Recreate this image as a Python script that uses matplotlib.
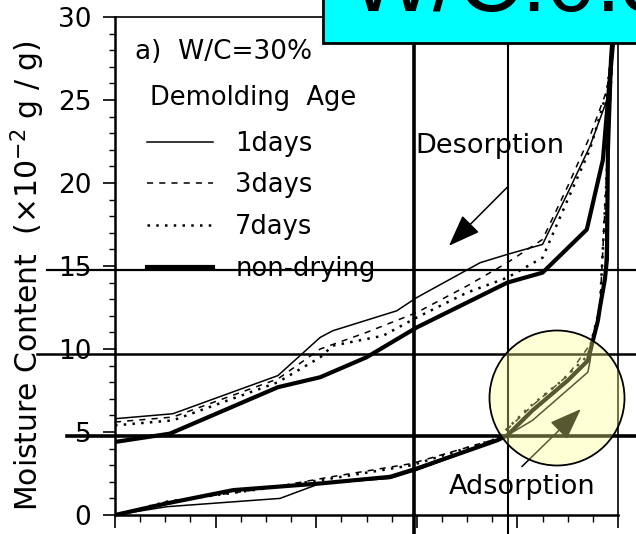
import numpy as np
import matplotlib
matplotlib.use("Agg")
import matplotlib.pyplot as plt
from matplotlib.lines import Line2D
from matplotlib.patches import Rectangle, Ellipse

plt.rcParams['font.family'] = ['DejaVu Sans']

# relative humidity (%) / moisture content (x10^-2 g/g)
# desorption branches
des_rh_1 = [0, 11.5, 32.4, 40.8, 43.3, 56, 60, 72.6, 78, 85, 90, 94.4, 97.8, 99, 99.6]
des_mc_1 = [5.8, 6.1, 8.4, 10.7, 11.1, 12.3, 13.1, 15.2, 15.7, 16.3, 19.4, 22.2, 25.0, 28.0, 30.0]
des_rh_3 = [0, 11.5, 32.4, 40.8, 50, 60, 70, 78, 85, 90, 94.4, 97.8, 99.6]
des_mc_3 = [5.6, 5.9, 8.2, 10.0, 11.0, 12.2, 13.8, 15.2, 16.6, 19.8, 22.8, 25.6, 30.0]
des_rh_7 = [0, 11.5, 32.4, 40.8, 43.3, 53.3, 60, 70, 78, 85, 90, 94.4, 97.8, 99.6]
des_mc_7 = [5.4, 5.7, 8.0, 9.5, 10.2, 10.8, 11.9, 13.4, 14.3, 15.5, 19.0, 22.0, 25.5, 30.0]
des_rh_nd = [0, 10.9, 32.4, 40.8, 50, 60, 78, 85, 93.8, 97, 98, 99, 99.6]
des_mc_nd = [4.4, 4.9, 7.7, 8.3, 9.5, 11.3, 14.0, 14.6, 17.2, 21.4, 25.0, 28.4, 30.0]

# adsorption branches
ads_rh_1 = [0, 10.3, 32.8, 40.8, 54.7, 60, 76, 78, 83, 94, 94.4, 95, 96, 97.4, 98, 99.2]
ads_mc_1 = [0, 0.5, 1.0, 1.9, 2.2, 2.7, 4.5, 4.8, 5.7, 8.6, 9.2, 10.5, 11.7, 14.2, 22.0, 30.0]
ads_rh_3 = [0, 10.3, 30, 43, 59, 76, 83, 90, 95, 96.4, 98, 99.2]
ads_mc_3 = [0, 0.8, 1.6, 2.3, 3.1, 4.6, 6.6, 8.4, 10.5, 12.5, 22.0, 30.0]
ads_rh_7 = [0, 10.3, 30, 43, 59, 76, 82, 86, 88.5, 94, 96.4, 98, 99.2]
ads_mc_7 = [0, 0.8, 1.6, 2.2, 3.0, 4.6, 6.4, 7.4, 8.0, 9.6, 12.5, 22.0, 30.0]
ads_rh_nd = [0, 10.3, 23.5, 40.8, 54.7, 60, 76, 78, 83, 90, 94, 95, 96, 96.4, 97.4, 97.8, 98, 98.6, 99.2]
ads_mc_nd = [0, 0.7, 1.5, 1.9, 2.3, 2.8, 4.5, 4.8, 6.3, 8.1, 9.3, 10.5, 11.7, 12.5, 14.2, 15.4, 22.0, 27.4, 30.0]

labels = ['1days', '3days', '7days', 'non-drying']

W, H = 636, 534
fig = plt.figure(figsize=(W / 100, H / 100), dpi=100)
ax = fig.add_axes([115 / W, (H - 515) / H, (618 - 115) / W, (515 - 17) / H])

styles = [dict(color='black', lw=1.1, ls='-'),
          dict(color='black', lw=1.1, ls=(0, (4, 4))),
          dict(color='black', lw=1.8, ls=(0, (1, 2.5))),
          dict(color='black', lw=3.0, ls='-')]

des = [(des_rh_1, des_mc_1), (des_rh_3, des_mc_3), (des_rh_7, des_mc_7), (des_rh_nd, des_mc_nd)]
ads = [(ads_rh_1, ads_mc_1), (ads_rh_3, ads_mc_3), (ads_rh_7, ads_mc_7), (ads_rh_nd, ads_mc_nd)]
for (x, y), st, lab in zip(des, styles, labels):
    ax.plot(x, y, label=lab, **st)
for (x, y), st in zip(ads, styles):
    ax.plot(x, y, **st)

ax.set_xlim(0, 100)
ax.set_ylim(0, 30)
ax.set_xticks(np.arange(0, 101, 20))
ax.set_xticks(np.arange(0, 101, 5), minor=True)
ax.set_xticklabels([])
ax.set_yticks(np.arange(0, 31, 5))
ax.set_yticks(np.arange(0, 31, 1), minor=True)
ax.tick_params(axis='y', which='major', length=9, width=1.2, pad=8, labelsize=19)
ax.tick_params(axis='y', which='minor', length=4, width=1)
ax.tick_params(axis='x', which='major', length=9, width=1.2)
ax.tick_params(axis='x', which='minor', length=5, width=1)
for s in ax.spines.values():
    s.set_linewidth(1.2)
ax.spines['left'].set_linewidth(1.8)
ax.spines['bottom'].set_linewidth(1.8)

ax.set_ylabel('Moisture Content  (×10$^{-2}$ g / g)', fontsize=21.5)
ax.yaxis.set_label_coords(-0.135, 0.48)

ax.text(4.0, 27.9, 'a)  W/C=30%', fontsize=19, va='center', ha='left')
ax.text(7.0, 25.1, 'Demolding  Age', fontsize=18.5, va='center', ha='left')
ax.legend(loc='upper left', bbox_to_anchor=(0.063, 0.772), frameon=False,
          fontsize=18.5, handlelength=2.6, handletextpad=0.85, labelspacing=0.62,
          borderpad=0, borderaxespad=0)

ax.text(74.5, 22.2, 'Desorption', fontsize=19.5, ha='center', va='center')
ax.annotate('', xy=(66, 16.1), xytext=(78.5, 19.9),
            arrowprops=dict(arrowstyle='-|>,head_length=0.8,head_width=0.3',
                            color='black', lw=1.1, mutation_scale=25))
ax.text(81, 1.7, 'Adsorption', fontsize=19.5, ha='center', va='center')
ax.annotate('', xy=(93, 6.5), xytext=(80.5, 2.8),
            arrowprops=dict(arrowstyle='-|>,head_length=0.8,head_width=0.3',
                            color='black', lw=1.1, mutation_scale=25))


def fx(px):
    return px / W


def fy(py):
    return 1 - py / H


# guide lines across the figure
for py, x0, lw in [(270, 47, 1.6), (354, 37, 1.8), (436, 67, 2.6)]:
    fig.add_artist(Line2D([fx(x0), 1], [fy(py), fy(py)], color='black', lw=lw,
                          transform=fig.transFigure))
for px, lw in [(414, 2.6), (508, 1.5)]:
    fig.add_artist(Line2D([fx(px), fx(px)], [0, fy(43)], color='black', lw=lw,
                          transform=fig.transFigure))

# highlight circle on the adsorption knee
fig.add_artist(Ellipse((fx(557), fy(398)), 135 / W, 135 / H,
                       facecolor=(1, 1, 0.55, 0.35), edgecolor='black', lw=1.3,
                       transform=fig.transFigure, zorder=5))

# header box
fig.add_artist(Rectangle((fx(323), fy(43)), 1, 0.2, facecolor='#00ffff',
                         edgecolor='black', lw=2, transform=fig.transFigure, zorder=6))
fig.text(fx(350), fy(11), 'W/C:0.30', fontsize=64, family='Liberation Sans',
         va='baseline', ha='left', zorder=7)

fig.savefig('out.png', dpi=100)
